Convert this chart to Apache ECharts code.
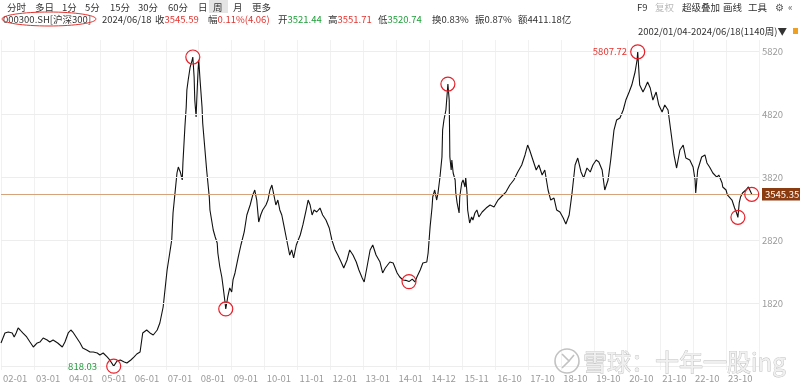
<!DOCTYPE html>
<html><head><meta charset="utf-8">
<script src="https://cdn.jsdelivr.net/npm/echarts@6.0.0/dist/echarts.min.js"></script>
<style>html,body{margin:0;padding:0;background:#fff}#c{width:800px;height:387px}</style>
</head><body><div id="c"></div>
<script>
// x-axis tick labels, one every 50 weekly bars
const tickLabels = ['02-01','03-01','04-01','05-01','06-01','07-01','08-01','09-01','10-01','11-01','12-01','13-01','14-01','14-12','15-11','16-10','17-10','18-10','19-10','20-10','21-10','22-10','23-10'];
// y-axis gridline values and labels
const yGridVals = [820, 1820, 2820, 3820, 4820, 5820];
const yLabelVals = [1820, 2820, 3820, 4820, 5820];
// week index (bar number from 2002/01/04) of sampled weekly closes
const weeks = [0,6,11,17,20,23,26,29,33,39,44,49,55,59,64,70,74,79,86,93,97,102,106,109,115,120,124,130,135,140,146,150,155,161,165,171,176,181,187,191,197,202,206,211,215,221,226,231,237,241,246,252,256,259,261,264,267,269,272,275,276,279,281,282,284,287,290,291,293,294,296,297,299,300,302,305,306,312,314,316,317,322,325,328,329,332,335,337,340,341,344,347,350,352,355,
360,364,369,373,378,382,385,388,391,394,397,402,405,408,411,414,417,420,423,426,429,432,435,438,441,444,448,451,454,458,463,466,469,472,475,479,484,488,493,498,502,507,511,516,520,525,529,534,539,543,548,551,555,560,564,569,575,579,583,586,590,595,601,605,610,614,619,624,628,631,636,640,646,648,651,654,655,658,661,663,666,669,670,672,675,677,678,680,681,683,684,686,689,690,692,695,696,699,701,704,705,707,708,711,714,716,719,722,725,
730,736,742,748,754,760,766,772,778,784,790,795,799,802,807,812,816,821,825,830,834,839,843,848,853,857,862,866,871,875,880,884,889,894,898,903,907,912,916,921,925,930,934,939,944,948,953,957,962,965,966,969,974,977,981,985,989,994,998,1003,1007,1012,1016,1021,1025,1030,1035,1039,1045,1050,1053,1054,1057,1063,1068,1071,1075,1080,1086,1089,1094,1095,1100,1102,1109,1113,1116,1118,1120,1122,1125,1130,1134,1139];
// weekly close values
const closes = [1186,1345,1360,1345,1281,1345,1424,1392,1345,1281,1201,1122,1186,1201,1265,1233,1201,1233,1186,1122,1201,1345,1392,1360,1265,1186,1107,1075,1043,1043,1027,996,1027,964,916,818.03,900,916,884,868,916,964,1011,1043,1345,1392,1345,1313,1392,1503,1757,2344,2614,2821,3249,3566,3884,3979,3900,3773,4043,4614,4931,5201,5360,5566,5677,5725,5407,5042,4773,5042,5518,5677,5360,4931,4677,3931,3900,3503,3297,2979,2868,2773,2614,2392,2233,2075,1821,1726,1916,2059,1995,2186,2297,
2551,2741,2948,3217,3376,3535,3614,3455,3106,3217,3297,3376,3455,3614,3693,3535,3376,3455,3297,3217,3059,2900,2741,2582,2662,2535,2741,2821,2900,3059,3297,3455,3376,3217,3297,3265,3328,3217,3138,3011,2821,2662,2582,2471,2376,2503,2662,2582,2471,2344,2218,2154,2376,2662,2741,2582,2471,2297,2376,2392,2471,2456,2297,2233,2186,2180,2160,2200,2154,2233,2344,2456,2471,2614,3027,3344,3503,3614,3455,3566,3820,4138,4566,4725,4884,5153,5296,5042,4138,3931,4090,3884,3773,3566,3408,3249,3503,3725,3773,3662,3820,3566,3297,3090,3186,3138,3249,3297,3186,
3265,3328,3376,3344,3455,3519,3582,3693,3773,3900,4011,4170,4328,4249,4090,3931,4011,3852,3931,3614,3455,3487,3297,3265,3170,3074,3217,3535,4011,4122,3900,3804,3963,3900,4011,4090,4058,3931,3614,3773,4090,4566,4725,4757,4884,5042,5169,5280,5487,5677,5807.72,5280,5169,5233,5328,5233,5042,5169,4963,4852,4963,4884,4566,4170,3963,4249,4328,4122,4090,3979,3773,3566,3931,4138,4170,4043,3979,3884,3820,3852,3725,3662,3614,3535,3455,3328,3249,3180,3408,3503,3566,3614,3662,3545.59];
// weeks circled in red on the picture
const circledWeeks = [171, 291, 341, 619, 678, 966, 1118, 1139];
const minWeek = 171, maxWeek = 966;
const lastPriceTag = 3545.35;

const RED = '#e3342f', GREEN = '#1f9d3a', TXT = '#333';
const FONT = '"Noto Sans CJK SC", "Noto Sans", sans-serif';
const seriesData = weeks.map((w, i) => [w, closes[i]]);

const marks = circledWeeks.map(w => {
  const v = closes[weeks.indexOf(w)];
  const item = { coord: [w, v], value: v };
  if (w === minWeek) item.label = { show: true, position: 'left', distance: 9, color: GREEN, formatter: v.toFixed(2) };
  else if (w === maxWeek) item.label = { show: true, position: 'left', distance: 3, color: RED, formatter: v.toFixed(2) };
  else item.label = { show: false };
  return item;
});

function T(text, x, y, fill, extra) {
  return Object.assign({ type: 'text', x: x, y: y, z: 100,
    style: Object.assign({ text: text, fill: fill || TXT, fontSize: 9.5, fontFamily: FONT, verticalAlign: 'middle' }, extra || {}) });
}
function RT(x, y, parts) { // rich text with coloured value
  const rich = { k: { fill: TXT, fontSize: 9.5, fontFamily: FONT }, r: { fill: RED, fontSize: 9.5, fontFamily: FONT }, g: { fill: GREEN, fontSize: 9.5, fontFamily: FONT } };
  return { type: 'text', x: x, y: y, z: 100, style: { text: parts, rich: rich, fontSize: 9.5, fontFamily: FONT, verticalAlign: 'middle' } };
}

const graphics = [
  { type: 'rect', shape: { x: 209, y: 0, width: 19, height: 13 }, style: { fill: '#e4e4e4' }, z: 99 },
  T('分时', 7, 7), T('多日', 35, 7), T('1分', 62, 7), T('5分', 85, 7), T('15分', 110, 7), T('30分', 138, 7), T('60分', 168, 7),
  T('日', 198, 7), T('周', 213, 7), T('月', 233, 7), T('更多', 252, 7),
  T('F9', 637, 7), T('复权', 655, 7, '#bbbbbb'), T('超级叠加', 682, 7), T('画线', 723, 7), T('工具', 748, 7), T('⚙', 775, 7, '#555'), T('«', 788, 7, '#555'),
  T('000300.SH[沪深300]', 3, 19), T('2024/06/18', 102, 19),
  RT(155, 19, '{k|收}{r|3545.59}'), RT(208, 19, '{k|幅}{r|0.11%(4.06)}'), RT(278, 19, '{k|开}{g|3521.44}'),
  RT(328, 19, '{k|高}{r|3551.71}'), RT(378, 19, '{k|低}{g|3520.74}'),
  T('换0.83%', 432, 19), T('振0.87%', 475, 19), T('额4411.18亿', 518, 19),
  T('2002/01/04-2024/06/18(1140周)▼', 638, 31),
  { type: 'rect', shape: { x: 793, y: 28, width: 5, height: 6 }, style: { fill: '#f0a020' }, z: 100 },
  { type: 'ellipse', shape: { cx: 49, cy: 19, rx: 47, ry: 7 }, style: { fill: 'none', stroke: RED, lineWidth: 1 }, z: 101 },
  // watermark
  { type: 'circle', shape: { cx: 567, cy: 361, r: 12 }, style: { fill: 'none', stroke: '#c2c2c2', lineWidth: 1.6 }, z: 50 },
  { type: 'polyline', shape: { points: [[562, 354], [569, 361], [562, 368]] }, style: { fill: 'none', stroke: '#c2c2c2', lineWidth: 1.6 }, z: 50 },
  { type: 'polyline', shape: { points: [[574, 355], [569, 361]] }, style: { fill: 'none', stroke: '#c2c2c2', lineWidth: 1.6 }, z: 50 },
  { type: 'text', x: 583, y: 362, z: 50, style: { text: '雪球：十年一股ing', fontSize: 24, fontFamily: FONT, fill: '#f0f0f0', stroke: '#bcbcbc', lineWidth: 0.8, verticalAlign: 'middle' } }
];

const chart = echarts.init(document.getElementById('c'), null, { renderer: 'canvas' });
chart.setOption({
  animation: false,
  backgroundColor: '#fff',
  grid: { left: 1, right: 41, top: 40, bottom: 17, containLabel: false },
  xAxis: {
    type: 'value', min: 0, max: 1150, interval: 50,
    axisLine: { show: false }, axisTick: { show: false },
    splitLine: { show: true, lineStyle: { color: '#f1f1f1', width: 1 } },
    axisLabel: { show: true, align: 'left', margin: 4, color: '#9a9a9a', fontSize: 9.5, fontFamily: FONT, padding: [0, 0, 0, 2],
      formatter: v => tickLabels[Math.round(v / 50)] || '' }
  },
  yAxis: {
    type: 'value', position: 'right', min: 757, max: 5995, scale: true,
    axisLine: { show: false }, axisTick: { show: false }, splitLine: { show: false },
    axisLabel: { customValues: yLabelVals, margin: 3, color: '#9a9a9a', fontSize: 9.5, fontFamily: FONT,
      formatter: v => String(Math.round(v)) }
  },
  series: [
    { type: 'line', data: [], z: 1, silent: true,
      markLine: { silent: true, symbol: ['none', 'none'], label: { show: false },
        lineStyle: { color: '#ededed', width: 1, type: 'solid' },
        data: yGridVals.map(v => ({ yAxis: v })) } },
    { type: 'line', data: seriesData, z: 3, showSymbol: false, symbol: 'none',
      lineStyle: { color: '#111', width: 1.1 },
      markLine: { silent: true, symbol: ['none', 'none'],
        lineStyle: { color: '#d6a27c', width: 1, type: 'solid' },
        label: { show: true, position: 'end', distance: 3, formatter: lastPriceTag.toFixed(2), color: '#fff', backgroundColor: '#8b3b10',
          padding: [2, 3, 1, 3], fontSize: 9.5, fontFamily: FONT },
        data: [{ yAxis: lastPriceTag }] },
      markPoint: { silent: true, symbol: 'circle', symbolSize: 14,
        itemStyle: { color: 'rgba(0,0,0,0)', borderColor: '#e8202a', borderWidth: 1.2 },
        label: { fontSize: 9.5, fontFamily: FONT },
        data: marks } }
  ],
  graphic: graphics
});
</script></body></html>
